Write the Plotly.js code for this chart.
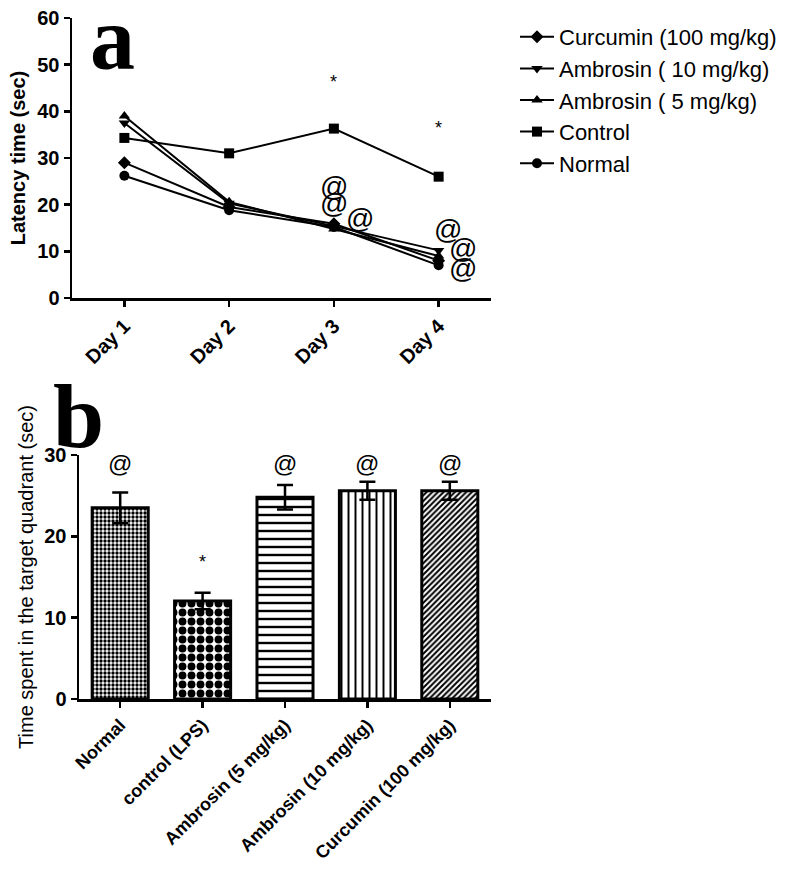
<!DOCTYPE html>
<html>
<head>
<meta charset="utf-8">
<script src="https://cdn.plot.ly/plotly-3.0.1.min.js"></script>
<style>html,body{margin:0;padding:0;background:#fff;}#chart{width:800px;height:870px;}</style>
</head>
<body>
<div id="chart"></div>
<script>
// ---- Panel a data ----
const days = ["Day 1", "Day 2", "Day 3", "Day 4"];
const curcumin100 = [29.0, 19.5, 15.9, 8.0];
const ambrosin10 = [37.5, 20.3, 15.4, 10.2];
const ambrosin5 = [39.0, 20.6, 14.8, 9.0];
const controlA = [34.3, 31.0, 36.3, 26.0];
const normalA = [26.2, 18.8, 15.2, 7.0];
const seriesNamesA = ["Curcumin (100 mg/kg)", "Ambrosin ( 10 mg/kg)", "Ambrosin ( 5 mg/kg)", "Control", "Normal"];

// ---- Panel b data ----
const groupsB = ["Normal", "control (LPS)", "Ambrosin (5 mg/kg)", "Ambrosin (10 mg/kg)", "Curcumin (100 mg/kg)"];
const timeB = [23.5, 12.05, 24.8, 25.6, 25.6];
const errB = [1.9, 1.0, 1.5, 1.1, 1.1];

// significance marks
const sigA = [
  {x: 2, y: 46.3, t: "*"}, {x: 3, y: 36.4, t: "*"},
  {x: 2, y: 24.0, t: "@"}, {x: 2, y: 20.3, t: "@"}, {x: 2.25, y: 17.0, t: "@"},
  {x: 3.09, y: 14.6, t: "@"}, {x: 3.23, y: 10.7, t: "@"}, {x: 3.23, y: 6.4, t: "@"}
];
const sigB = [
  {x: 0, y: 29.0, t: "@"}, {x: 1, y: 16.8, t: "*"}, {x: 2, y: 29.0, t: "@"},
  {x: 3, y: 29.0, t: "@"}, {x: 4, y: 29.0, t: "@"}
];

const F = "Liberation Sans, Arial, sans-serif";
const symbols = ["diamond", "triangle-down", "triangle-up", "square", "circle"];
const seriesA = [curcumin100, ambrosin10, ambrosin5, controlA, normalA];

const traces = seriesA.map((vals, i) => ({
  type: "scatter", mode: "lines+markers",
  x: days, y: vals, name: seriesNamesA[i],
  legendgroup: "g" + i,
  xaxis: "x", yaxis: "y",
  line: {color: "#000", width: 2},
  marker: {symbol: symbols[i], size: 10, color: "#000"}
}));

traces.push({
  type: "bar", x: groupsB, y: timeB, xaxis: "x2", yaxis: "y2",
  showlegend: false, width: 0.68,
  marker: {
    color: "#fff",
    line: {color: "#000", width: 3},
    pattern: {
      shape: [".", ".", "-", "|", "/"],
      size: [4, 9, 8, 7, 4],
      solidity: [0.55, 0.6, 0.3, 0.28, 0.5],
      fgcolor: "#000", bgcolor: "#fff"
    }
  },
  error_y: {type: "data", array: errB, visible: true, color: "#000", thickness: 2.5, width: 8}
});

const ann = [];
sigA.forEach(s => ann.push({x: s.x, y: s.y, xref: "x", yref: "y", text: s.t, showarrow: false,
  font: {family: F, size: s.t === "@" ? 28 : 18, color: "#000"}}));
sigB.forEach(s => ann.push({x: s.x, y: s.y, xref: "x2", yref: "y2", text: s.t, showarrow: false,
  font: {family: F, size: s.t === "@" ? 24 : 18, color: "#000"}}));
ann.push({x: 88 / 800, y: 1 - 38 / 870, xref: "paper", yref: "paper", xanchor: "left", yanchor: "middle",
  text: "a", showarrow: false, font: {family: "Liberation Serif, serif", size: 90, color: "#000", weight: "bold"}});
ann.push({x: 51 / 800, y: 1 - 416 / 870, xref: "paper", yref: "paper", xanchor: "left", yanchor: "middle",
  text: "b", showarrow: false, font: {family: "Liberation Serif, serif", size: 92, color: "#000", weight: "bold"}});

const axisCommon = {
  showgrid: false, zeroline: false, showline: true, linecolor: "#000", linewidth: 2.5,
  ticks: "outside", ticklen: 6, tickwidth: 2.5, tickcolor: "#000", automargin: false
};

const layout = {
  width: 800, height: 870,
  margin: {l: 0, r: 0, t: 0, b: 0},
  paper_bgcolor: "#fff", plot_bgcolor: "rgba(0,0,0,0)",
  showlegend: true,
  legend: {x: 515 / 800, y: 1 - 16 / 870, xanchor: "left", yanchor: "top", itemwidth: 34,
    font: {family: F, size: 22, color: "#000"}, tracegroupgap: 0, bgcolor: "rgba(0,0,0,0)"},
  xaxis: Object.assign({}, axisCommon, {
    domain: [72 / 800, 491 / 800], anchor: "y", type: "category", range: [-0.5, 3.5],
    tickangle: -45, tickfont: {family: F, size: 20, color: "#000", weight: "bold"}
  }),
  yaxis: Object.assign({}, axisCommon, {
    domain: [(870 - 298) / 870, (870 - 18) / 870], anchor: "x", range: [0, 60], dtick: 10,
    tickfont: {family: F, size: 20, color: "#000", weight: "bold"},
    title: {text: "Latency time (sec)", font: {family: F, size: 20, color: "#000", weight: "bold"}, standoff: 7}
  }),
  xaxis2: Object.assign({}, axisCommon, {
    domain: [79 / 800, 491 / 800], anchor: "y2", type: "category", range: [-0.5, 4.5],
    tickangle: -45, tickfont: {family: F, size: 18, color: "#000", weight: "bold"}
  }),
  yaxis2: Object.assign({}, axisCommon, {
    domain: [(870 - 699) / 870, (870 - 455) / 870], anchor: "x2", range: [0, 30], dtick: 10,
    tickfont: {family: F, size: 20, color: "#000", weight: "bold"},
    title: {text: "Time spent in the target quadrant (sec)", font: {family: F, size: 20, color: "#000"}, standoff: 6}
  }),
  annotations: ann
};

Plotly.newPlot("chart", traces, layout, {displayModeBar: false, staticPlot: true});
</script>
</body>
</html>
